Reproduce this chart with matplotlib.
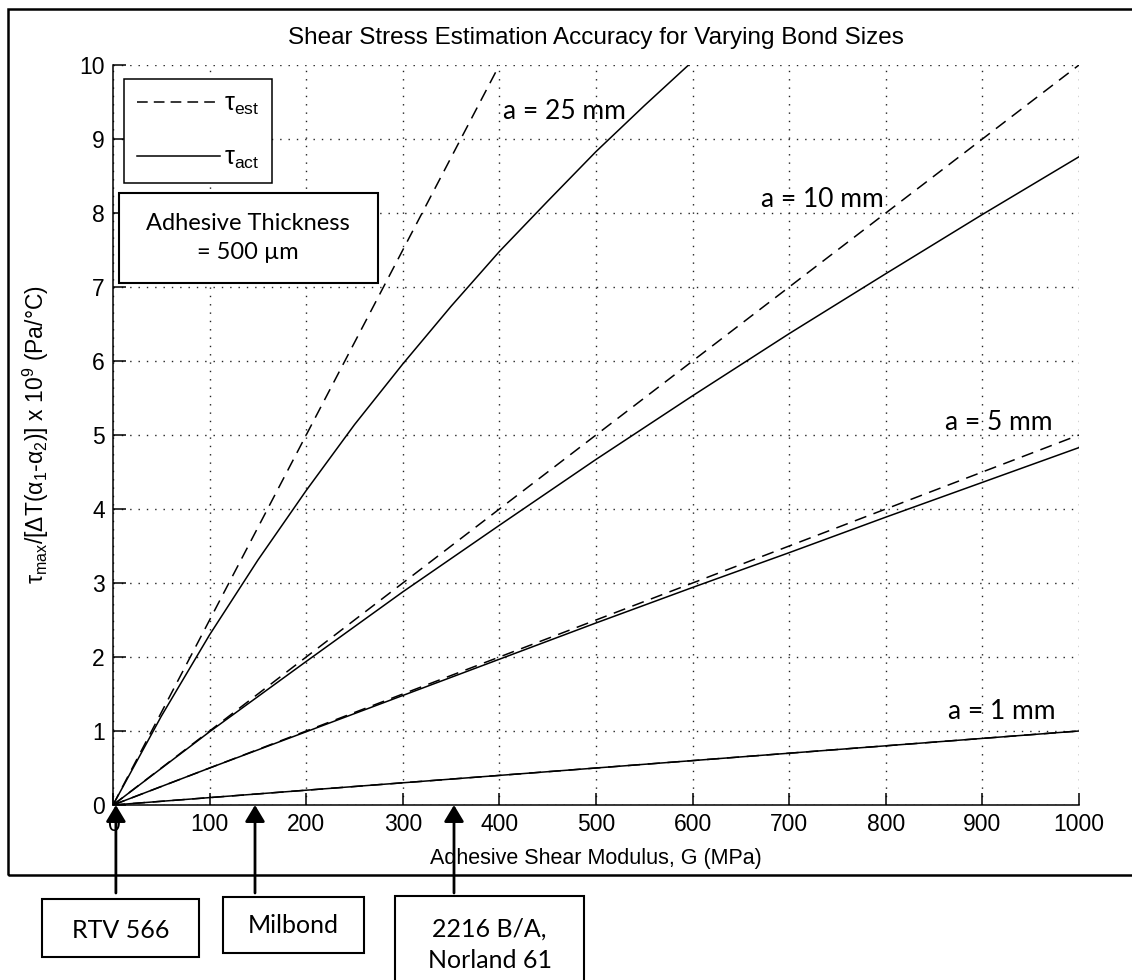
import numpy as np
import matplotlib
matplotlib.use('Agg')
import matplotlib.pyplot as plt
from matplotlib.lines import Line2D
from matplotlib.patches import Rectangle

# values
G_25 = [0, 100, 200, 300, 400]
est_25 = [0, 2.5, 5.0, 7.5, 10.0]
G_act25 = [0, 50, 100, 150, 200, 250, 300, 350, 400, 450, 500, 550, 600]
act_25 = [0, 1.20, 2.30, 3.31, 4.25, 5.14, 5.96, 6.74, 7.48, 8.16, 8.83, 9.45, 10.05]

G = [0, 100, 200, 300, 400, 500, 600, 700, 800, 900, 1000]
est_10 = [0, 1, 2, 3, 4, 5, 6, 7, 8, 9, 10]
act_10 = [0, 0.99, 1.94, 2.88, 3.78, 4.67, 5.53, 6.37, 7.18, 7.98, 8.76]
est_5 = [0, 0.5, 1.0, 1.5, 2.0, 2.5, 3.0, 3.5, 4.0, 4.5, 5.0]
act_5 = [0, 0.50, 0.99, 1.48, 1.97, 2.46, 2.94, 3.41, 3.89, 4.36, 4.83]
est_1 = [0, 0.1, 0.2, 0.3, 0.4, 0.5, 0.6, 0.7, 0.8, 0.9, 1.0]
act_1 = [0, 0.10, 0.20, 0.30, 0.40, 0.50, 0.60, 0.70, 0.80, 0.90, 1.00]

bond_labels = ['a = 25 mm', 'a = 10 mm', 'a = 5 mm', 'a = 1 mm']
bond_label_pos = [(404, 9.37), (671, 8.18), (861, 5.17), (864, 1.26)]

materials = ['RTV 566', 'Milbond', '2216 B/A,\nNorland 61']
material_G = [3, 147, 353]

plt.rcParams['font.family'] = ['Liberation Sans', 'DejaVu Sans']
plt.rcParams['mathtext.fontset'] = 'custom'
plt.rcParams['mathtext.rm'] = 'Liberation Sans'
plt.rcParams['mathtext.it'] = 'Liberation Sans:italic'
plt.rcParams['mathtext.default'] = 'regular'

W, H = 1132, 980
fig = plt.figure(figsize=(W / 100, H / 100), dpi=100)
ax = fig.add_axes([113 / W, 1 - 805 / H, 966 / W, 740 / H])

dash = (0, (8, 5))
lw = 1.1
ax.plot(G_25, est_25, color='k', lw=lw, linestyle=dash)
ax.plot(G_act25, act_25, color='k', lw=lw)
ax.plot(G, est_10, color='k', lw=lw, linestyle=dash)
ax.plot(G, act_10, color='k', lw=lw)
ax.plot(G, est_5, color='k', lw=lw, linestyle=dash)
ax.plot(G, act_5, color='k', lw=lw)
ax.plot(G, est_1, color='k', lw=lw, linestyle=dash)
ax.plot(G, act_1, color='k', lw=lw)

ax.set_xlim(0, 1000)
ax.set_ylim(0, 10)
ax.set_xticks(range(0, 1001, 100))
ax.set_yticks(range(0, 11))
ax.grid(True, color='#222222', linestyle=(0, (1, 5)), lw=1.0)
ax.spines['top'].set_visible(False)
ax.spines['right'].set_visible(False)
for s in ['left', 'bottom']:
    ax.spines[s].set_linewidth(1.1)
ax.tick_params(direction='in', length=9, width=1.1, labelsize=16.5, pad=6)

ax.text(0.5, 1.036, 'Shear Stress Estimation Accuracy for Varying Bond Sizes',
        transform=ax.transAxes, ha='center', va='center', fontsize=17.5)
ax.set_xlabel('Adhesive Shear Modulus, G (MPa)', fontsize=15.5)
ax.xaxis.set_label_coords(0.5, -0.058)
ax.set_ylabel(r'$\tau_{max}$/[$\Delta$T($\alpha_1$-$\alpha_2$)] x 10$^9$ (Pa/°C)', fontsize=16.5)
ax.yaxis.set_label_coords(-0.064, 0.5)

handles = [Line2D([], [], color='k', lw=lw, linestyle=(0, (7, 4))),
           Line2D([], [], color='k', lw=lw)]
leg = ax.legend(handles, [r'$\tau_{est}$', r'$\tau_{act}$'], loc='upper left',
                bbox_to_anchor=(0.0114, 0.981), borderaxespad=0, fontsize=18,
                fancybox=False, framealpha=1, edgecolor='k', handlelength=3.35,
                handletextpad=0.15, labelspacing=1.15, borderpad=0.5)
leg.get_frame().set_linewidth(1.1)

for txt, (x, y) in zip(bond_labels, bond_label_pos):
    ax.text(x, y, txt, ha='left', va='center', fontsize=19, family='Lato')

# adhesive thickness box
ax.add_patch(Rectangle((6, 7.05), 268, 1.22, fill=True, facecolor='white',
                       edgecolor='k', lw=1.5, zorder=5))
ax.text(140, 7.66, 'Adhesive Thickness\n= 500 µm', ha='center', va='center',
        fontsize=17, family='Lato', linespacing=1.5, zorder=6)

# figure border
fig.add_artist(Rectangle((8 / W, 1 - 875 / H), 1.2, (875 - 9) / H, fill=False,
                         edgecolor='k', lw=1.8, transform=fig.transFigure))

# material arrows and boxes
xt = ax.get_xaxis_transform()
for g in material_G:
    ax.annotate('', xy=(g, 0), xycoords=xt, xytext=(g, (805 - 893) / 740),
                textcoords=xt, annotation_clip=False,
                arrowprops=dict(arrowstyle='-|>,head_length=0.5,head_width=0.3',
                                mutation_scale=20, lw=2.0, color='k',
                                shrinkA=0, shrinkB=0))

boxes = [(42, 199, 899, 957), (223, 364, 897, 953), (395, 584, 896, 992)]
text_y = [930, 925, 945]
for (x0, x1, y0, y1), txt, ty in zip(boxes, materials, text_y):
    fig.add_artist(Rectangle((x0 / W, 1 - y1 / H), (x1 - x0) / W, (y1 - y0) / H,
                             fill=False, edgecolor='k', lw=1.5,
                             transform=fig.transFigure))
    fig.text((x0 + x1) / 2 / W, 1 - ty / H, txt, ha='center',
             va='center', fontsize=18, family='Lato', linespacing=1.45)

fig.savefig('out.png', dpi=100)
